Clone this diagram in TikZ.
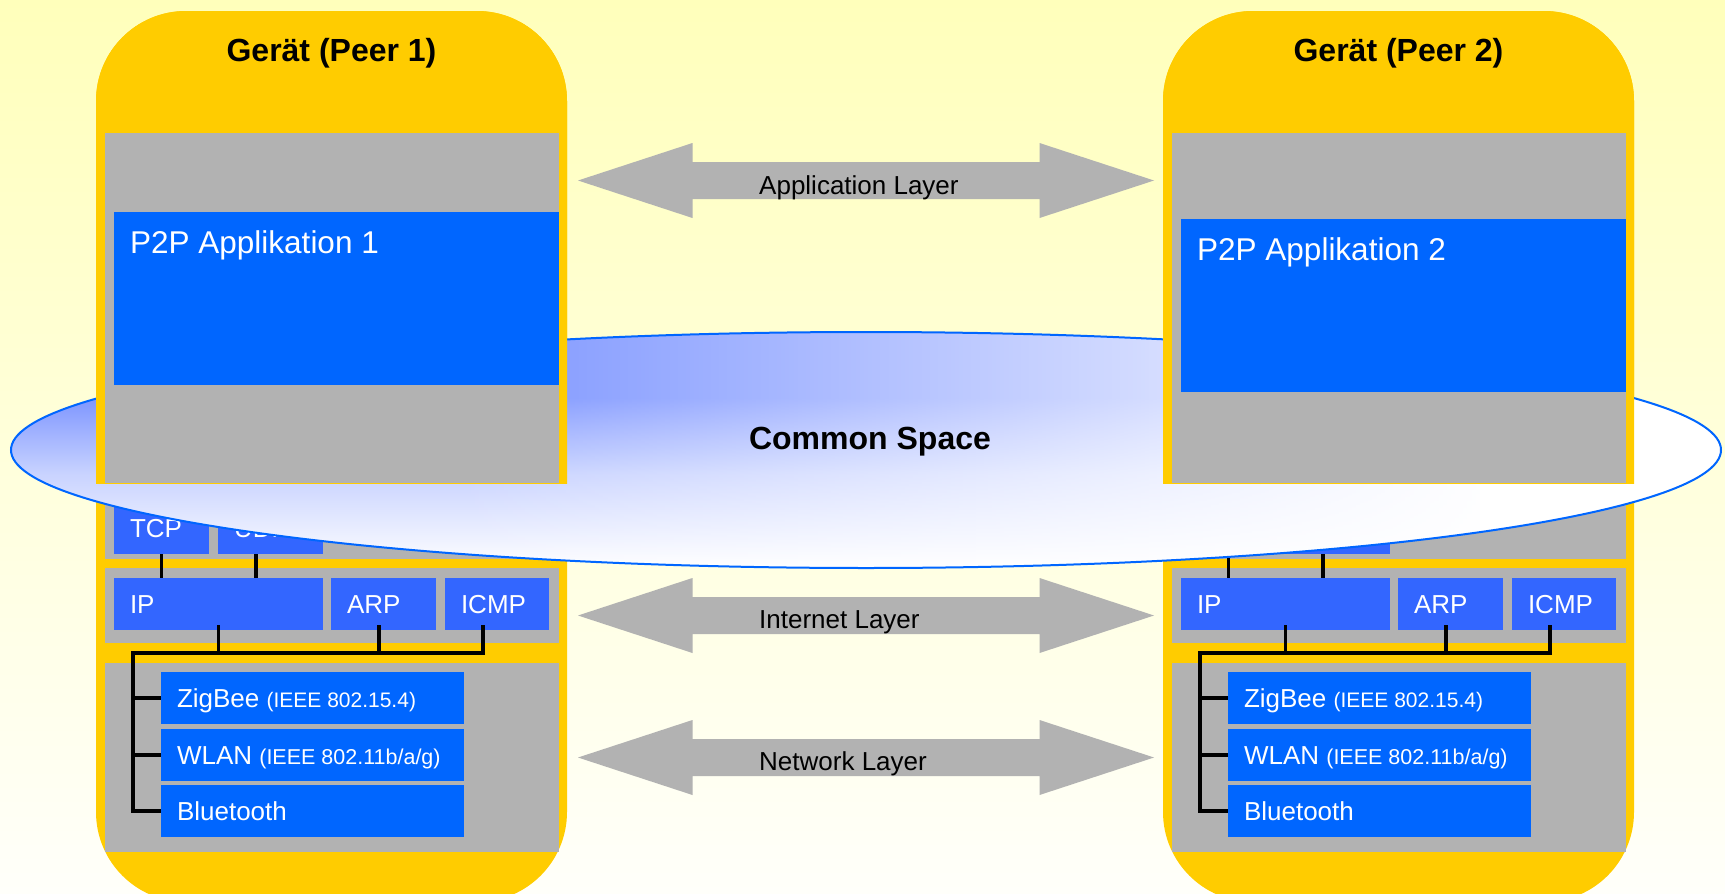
\documentclass[tikz,border=0pt]{standalone}
\usepackage{fontspec}
\setmainfont{Liberation Sans}
\usetikzlibrary{calc,fadings}

\definecolor{devyellow}{RGB}{255,204,0}
\definecolor{stackgray}{RGB}{178,178,178}
\definecolor{protoblue}{RGB}{51,102,255}
\definecolor{appblue}{RGB}{0,102,255}
\definecolor{spaceblue}{RGB}{126,150,255}
\colorlet{spacemid}{spaceblue!42!white}
\definecolor{rimblue}{RGB}{0,102,255}
\definecolor{bgtop}{RGB}{255,255,187}
\definecolor{bgbottom}{RGB}{255,255,250}

% vertical profile of the common space: blue in the upper half, white at the rim below
\pgfdeclareverticalshading{spacefill}{100bp}{color(0bp)=(white); color(25bp)=(white);
  color(45bp)=(spacemid); color(61bp)=(spaceblue); color(100bp)=(spaceblue)}
% white veil that grows towards the right side of the common space
\tikzfading[name=whiten east, left color=transparent!100, right color=transparent!0]

\begin{document}
\begin{tikzpicture}[x=1pt, y=-1pt,
  box/.style={rectangle, anchor=north west, inner sep=0pt, outer sep=0pt},
  proto/.style={box, fill=protoblue, text=white, inner xsep=16pt,
    minimum height=52pt, text height=18.6pt, text depth=0pt, align=flush left,
    font=\fontsize{26}{30}\selectfont, text width=#1},
  link/.style={proto=#1, fill=appblue},
  tree/.style={line width=3.2pt, black},
  title/.style={anchor=base, inner sep=0pt, font=\bfseries\fontsize{32}{38}\selectfont},
  apptext/.style={inner sep=0pt, text=white, font=\fontsize{31.5}{36}\selectfont},
  layertext/.style={anchor=base west, inner sep=0pt, font=\fontsize{26}{30}\selectfont},
  layerarrow/.pic={
    \fill[stackgray] (-288,0) -- (-173.5,-37.5) -- (-173.5,-18.5) -- (173.5,-18.5)
      -- (173.5,-37.5) -- (288,0) -- (173.5,37.5) -- (173.5,18.5)
      -- (-173.5,18.5) -- (-173.5,37.5) -- cycle;
  }
]
\useasboundingbox (0,0) rectangle (1725,894);
\shade[top color=bgtop, bottom color=bgbottom] (0,0) rectangle (1725,894);

% device bodies and the lower protocol stacks
\foreach \dx/\d in {0/L,1067/R}{
  \fill[devyellow, rounded corners=90pt] (\dx+96,11) rectangle (\dx+567,902);
  \fill[stackgray] (\dx+105,483) rectangle (\dx+559,559);
  \fill[stackgray] (\dx+105,568) rectangle (\dx+559,643);
  \fill[stackgray] (\dx+105,663) rectangle (\dx+559,852);
  \node[proto=63pt]  (\d-tcp)  at (\dx+114,502) {TCP};
  \node[proto=73pt]  (\d-udp)  at (\dx+218,502) {UDP};
  \node[proto=177pt] (\d-ip)   at (\dx+114,578) {IP};
  \node[proto=73pt]  (\d-arp)  at (\dx+331,578) {ARP};
  \node[proto=72pt]  (\d-icmp) at (\dx+445,578) {ICMP};
  \node[link=271pt]  (\d-zig)  at (\dx+161,672) {ZigBee {\fontsize{21}{24}\selectfont(IEEE 802.15.4)}};
  \node[link=271pt]  (\d-wlan) at (\dx+161,729) {WLAN {\fontsize{21.5}{24}\selectfont(IEEE 802.11b/a/g)}};
  \node[link=271pt]  (\d-bt)   at (\dx+161,785) {Bluetooth};
  \coordinate (\d-bus) at (\dx+133,653);
  % transport to internet
  \draw[tree] (\d-tcp.south) -- (\d-tcp.south |- \d-ip.north);
  \draw[tree] ($(\d-udp.south west)+(38,0)$) coordinate (\d-udpdrop)
    -- (\d-udpdrop |- \d-ip.north);
  % internet to network
  \draw[tree] ($(\d-ip.south)+(0,-5)$) -- (\d-ip.south |- \d-bus);
  \draw[tree] ($(\d-arp.south west)+(48,-5)$) coordinate (\d-arpdrop)
    -- (\d-arpdrop |- \d-bus);
  \draw[tree] ($(\d-icmp.south west)+(38,-5)$) |- (\d-bus) |- (\d-bt.west);
  \draw[tree] (\d-bus |- \d-zig.west) -- (\d-zig.west);
  \draw[tree] (\d-bus |- \d-wlan.west) -- (\d-wlan.west);
}

% layer arrows
\pic at (866,180.5) {layerarrow};
\pic at (866,615.5) {layerarrow};
\pic at (866,757.5) {layerarrow};
\node[layertext] (applayer) at (759,194) {Application Layer};
\node[layertext] (inetlayer) at (759,628) {Internet Layer};
\node[layertext] (netlayer) at (759,770) {Network Layer};

% common space
\begin{scope}
  \clip (866,450) ellipse [x radius=855pt, y radius=118pt];
  \shade[shading=spacefill] (11,332) rectangle (1721,568);
  \fill[white, path fading=whiten east] (450,332) rectangle (1500,568);
  \fill[white] (1480,332) rectangle (1721,568);
\end{scope}
\draw[rimblue, line width=2pt] (866,450) ellipse [x radius=855pt, y radius=118pt];
\node[title] (space) at (870,449) {Common Space};

% upper part of each device, in front of the common space
\foreach \dx/\d/\peer/\off in {0/L/1/0,1067/R/2/7}{
  \begin{scope}
    \clip (\dx+90,0) rectangle (\dx+575,483);
    \fill[devyellow, rounded corners=90pt] (\dx+96,11) rectangle (\dx+567,902);
  \end{scope}
  \fill[stackgray] (\dx+105,133) rectangle (\dx+559,483);
  \node[box, fill=appblue, minimum width=445pt, minimum height=173pt]
    (\d-app) at (\dx+114,212+\off) {};
  \node[apptext, anchor=base west] (\d-apptxt) at ($(\d-app.north west)+(16,41)$)
    {P2P Applikation \peer};
  \node[title] (\d-title) at (\dx+331.5,61.5) {Gerät (Peer \peer)};
}
\end{tikzpicture}
\end{document}
